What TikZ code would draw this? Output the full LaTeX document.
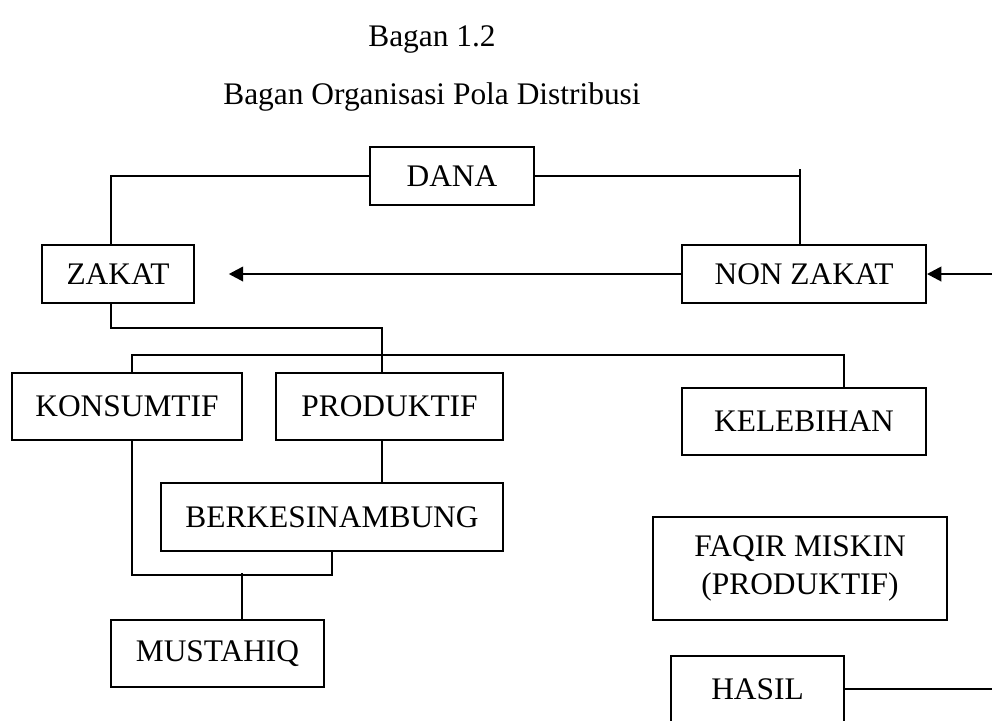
\documentclass[tikz,border=0pt]{standalone}
\usepackage{fontspec}
\setmainfont{Liberation Serif}
\usetikzlibrary{arrows.meta}

\begin{document}
\begin{tikzpicture}[x=0.4138pt, y=-0.4138pt,
    font=\fontsize{13}{15.6}\selectfont,
    box/.style={draw, line width=0.75pt, inner sep=0pt, align=center},
    link/.style={line width=0.75pt},
    arr/.style={line width=1.1pt, -{Triangle[length=6pt,width=6pt]}}]
    \useasboundingbox (0,0) rectangle (992,720);

    % Titles
    \node (title) at (432,39) {Bagan 1.2};
    \node (subtitle) at (432,97) {Bagan Organisasi Pola Distribusi};

    % Top row
    \node[box, minimum width=67.9pt, minimum height=24pt] (dana) at (452,176) {DANA};
    \node[box, minimum width=62.9pt, minimum height=24pt] (zakat) at (118,274) {ZAKAT};
    \node[box, minimum width=101pt, minimum height=24pt] (nonzakat) at (804,274) {NON ZAKAT};

    % Middle rows
    \node[box, minimum width=95.2pt, minimum height=27.7pt] (konsumtif) at (127,406.5) {KONSUMTIF};
    \node[box, minimum width=93.9pt, minimum height=27.7pt] (produktif) at (389.5,406.5) {PRODUKTIF};
    \node[box, minimum width=101pt, minimum height=27.7pt] (kelebihan) at (804,421.5) {KELEBIHAN};
    \node[box, minimum width=141.5pt, minimum height=28.1pt] (berkesinambung) at (332,517) {BERKESINAMBUNG};
    \node[box, minimum width=121.7pt, minimum height=42.6pt] (faqir) at (800,568.5) {FAQIR MISKIN\\(PRODUKTIF)};

    % Bottom row
    \node[box, minimum width=88.1pt, minimum height=27.7pt] (mustahiq) at (217.5,653.5) {MUSTAHIQ};
    \node[box, minimum width=71.6pt, minimum height=27.3pt] (hasil) at (757.5,689) {HASIL};

    % Free ends at the right margin
    \coordinate (rin) at (992,274);
    \coordinate (rout) at (992,689);

    % Connectors
    \draw[link] (dana.west) -| ([xshift=-2.9pt]zakat.north);
    \draw[link] (dana.east) -| ([xshift=-1.7pt]nonzakat.north);
    \draw[link] ([xshift=-1.7pt]nonzakat.north) -- ++(0,-75);
    \draw[arr] (nonzakat.west) -- ([xshift=14pt]zakat.east);
    \draw[arr] (rin) -- (nonzakat.east);
    \draw[link] ([xshift=-2.9pt]zakat.south) -- ++(0,24) -| ([xshift=-3.1pt]produktif.north);
    \draw[link] ([xshift=2.1pt]konsumtif.north) -- ++(0,-17) -| ([xshift=16.6pt]kelebihan.north);
    \draw[link] ([xshift=-3.1pt]produktif.south) -- ([xshift=-3.1pt]produktif.south |- berkesinambung.north);
    \draw[link] ([xshift=2.1pt]konsumtif.south) -- ++(0,134) -| (berkesinambung.south);
    \draw[link] ([xshift=10.1pt]mustahiq.north) -- ++(0,-46);
    \draw[link] (hasil.east) -- (rout);
\end{tikzpicture}
\end{document}
